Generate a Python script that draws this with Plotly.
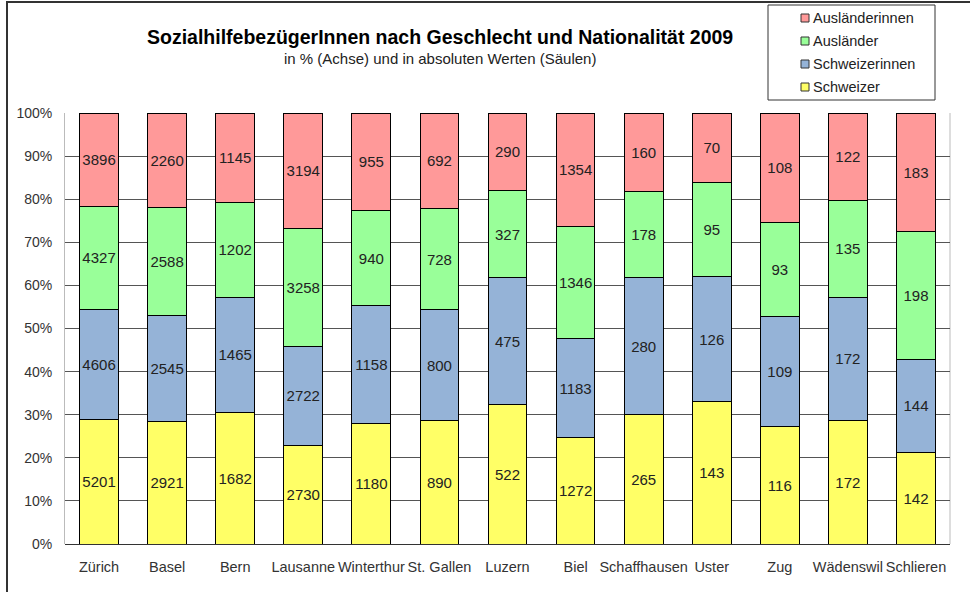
import plotly.graph_objects as go

cities = ["Zürich", "Basel", "Bern", "Lausanne", "Winterthur", "St. Gallen", "Luzern",
          "Biel", "Schaffhausen", "Uster", "Zug", "Wädenswil", "Schlieren"]
schweizer = [5201, 2921, 1682, 2730, 1180, 890, 522, 1272, 265, 143, 116, 172, 142]
schweizerinnen = [4606, 2545, 1465, 2722, 1158, 800, 475, 1183, 280, 126, 109, 172, 144]
auslaender = [4327, 2588, 1202, 3258, 940, 728, 327, 1346, 178, 95, 93, 135, 198]
auslaenderinnen = [3896, 2260, 1145, 3194, 955, 692, 290, 1354, 160, 70, 108, 122, 183]

series_names = ["Schweizer", "Schweizerinnen", "Ausländer", "Ausländerinnen"]
series_values = [schweizer, schweizerinnen, auslaender, auslaenderinnen]
series_colors = ["#FFFF66", "#95B3D7", "#99FF99", "#FF9999"]

font_family = "Liberation Sans, Arial, sans-serif"

W, H = 970, 592
L, R, T, B = 65, 20, 113, 48
PW, PH = W - L - R, H - T - B


def px(x):
    return (x - L) / PW


def py(y):
    return (H - B - y) / PH


fig = go.Figure()
for name, vals, color in zip(series_names, series_values, series_colors):
    fig.add_trace(go.Bar(
        x=cities, y=vals, name=name,
        marker=dict(color=color, line=dict(color="#000000", width=1)),
        text=[str(v) for v in vals],
        textposition="inside", insidetextanchor="middle",
        textangle=0,
        textfont=dict(family=font_family, size=15, color="#222222"),
        constraintext="none",
        showlegend=False,
    ))

annotations = [
    dict(text="<b>SozialhilfebezügerInnen nach Geschlecht und Nationalität 2009</b>",
         x=px(440), y=py(37), xref="paper", yref="paper",
         xanchor="center", yanchor="middle", showarrow=False,
         font=dict(family=font_family, size=19.5, color="#000000")),
    dict(text="in % (Achse) und in absoluten Werten (Säulen)",
         x=px(440), y=py(58), xref="paper", yref="paper",
         xanchor="center", yanchor="middle", showarrow=False,
         font=dict(family=font_family, size=15, color="#222222")),
]

shapes = [
    # outer frame
    dict(type="line", xref="paper", yref="paper", x0=px(7), x1=px(7),
         y0=py(600), y1=py(2), line=dict(color="#333333", width=2)),
    dict(type="line", xref="paper", yref="paper", x0=px(6), x1=px(975),
         y0=py(2), y1=py(2), line=dict(color="#333333", width=2)),
    # right plot edge
    dict(type="line", xref="paper", yref="paper", x0=1, x1=1, y0=0, y1=1,
         line=dict(color="#BBBBBB", width=1), layer="below"),
    # legend box
    dict(type="rect", xref="paper", yref="paper", x0=px(768), x1=px(935),
         y0=py(100), y1=py(5), line=dict(color="#333333", width=1), fillcolor="white"),
]

# legend entries (top to bottom: reversed stacking order)
legend_y = [18, 41, 64, 87]
for i, idx in enumerate([3, 2, 1, 0]):
    yc = legend_y[i]
    shapes.append(dict(type="rect", xref="paper", yref="paper",
                       x0=px(801), x1=px(809), y0=py(yc + 4), y1=py(yc - 4),
                       fillcolor=series_colors[idx], line=dict(color="#333333", width=1)))
    annotations.append(dict(text=series_names[idx], x=px(811), y=py(yc),
                            xref="paper", yref="paper", xanchor="left", yanchor="middle",
                            showarrow=False,
                            font=dict(family=font_family, size=14.5, color="#222222")))

fig.update_layout(
    barmode="stack", barnorm="percent", bargap=0.43,
    width=W, height=H,
    margin=dict(l=L, r=R, t=T, b=B, autoexpand=False),
    paper_bgcolor="white", plot_bgcolor="white",
    font=dict(family=font_family, size=14, color="#222222"),
    showlegend=False,
    annotations=annotations,
    shapes=shapes,
)

fig.update_xaxes(showgrid=False, showline=False, ticks="",
                 tickfont=dict(size=14.5, color="#333333"), range=[-0.5, 12.5],
                 ticklabelstandoff=12)
fig.update_yaxes(range=[0, 100], dtick=10, ticksuffix="%", showgrid=True, gridcolor="#555555",
                 gridwidth=1, showline=True, linecolor="#BBBBBB", linewidth=1,
                 tickfont=dict(size=14, color="#333333"), ticks="", zeroline=True,
                 zerolinecolor="#333333", zerolinewidth=1, ticklabelstandoff=9)

fig.write_html("out.html", config={"displayModeBar": False},
               post_script="document.body.style.margin='0';")
